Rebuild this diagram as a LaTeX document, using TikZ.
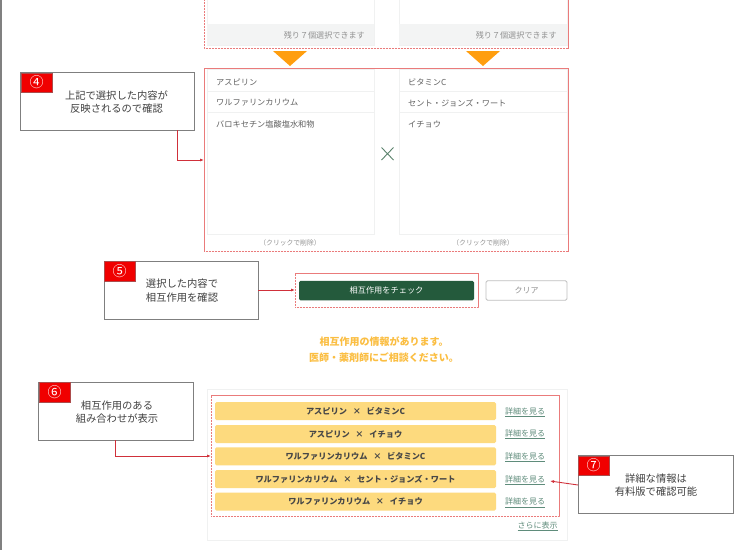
\documentclass[tikz,border=0pt]{standalone}
\usepackage{fontspec}
\usepackage{xcolor}
\setmainfont{Noto Sans CJK JP}
\usetikzlibrary{arrows.meta}
\definecolor{redline}{HTML}{EA7B7B}
\definecolor{connred}{HTML}{D0303A}
\definecolor{badgered}{HTML}{F00000}
\definecolor{boxgray}{HTML}{7F7F7F}
\definecolor{panelline}{HTML}{F0F1F1}
\definecolor{footgray}{HTML}{F3F4F4}
\definecolor{txtgray}{HTML}{606060}
\definecolor{footer}{HTML}{909090}
\definecolor{btngreen}{HTML}{245A3C}
\definecolor{barfill}{HTML}{FDDA7E}
\definecolor{linkgreen}{HTML}{5F8C7B}
\definecolor{amber}{HTML}{FBBE42}
\definecolor{triangle}{HTML}{FF9E0F}
\newcommand{\fsz}[1]{\fontsize{#1pt}{#1pt}\selectfont}
\newcommand{\linktxt}[1]{$\underline{\hbox{#1}}$}
\newcommand{\timesgap}{\hspace{0.7em}×\hspace{0.7em}}
\tikzset{
  callout/.style={draw=boxgray,line width=0.9pt,fill=white,inner sep=0pt,outer sep=0pt},
  badge/.style={fill=badgered,draw=boxgray!60!badgered,line width=0.3pt,text=white,inner sep=0pt,outer sep=0pt,minimum width=31pt,minimum height=19.5pt,font=\fsz{14}},
  calltext/.style={text=black!75,align=center,font=\fsz{10.3},inner sep=0pt},
  hilite/.style={draw=redline,dash pattern=on 1.2pt off 0.3pt,line width=1pt,inner sep=0pt,outer sep=0pt},
  panel/.style={draw=panelline,line width=0.7pt,fill=white,inner sep=0pt,outer sep=0pt},
  row/.style={anchor=west,text=txtgray,font=\fsz{8.2},inner sep=0pt},
  foot/.style={text=footer,font=\fsz{8.1},inner sep=0pt},
  delnote/.style={text=footer,font=\fsz{6.8},inner sep=0pt},
  bar/.style={fill=barfill,rounded corners=1.5pt,text=black!72,minimum width=281pt,minimum height=18pt,inner sep=0pt,outer sep=0pt,font=\fsz{8.2}\bfseries},
  linkt/.style={text=linkgreen,font=\fsz{8},inner sep=0pt},
  conn/.style={draw=connred,line width=0.9pt,-{Latex[length=4pt,width=3pt]}},
  tri/.style={fill=triangle,draw=none}
}
\begin{document}
\begin{tikzpicture}[x=1pt,y=-1pt]
\useasboundingbox (0,0) rectangle (750,550);
\clip (0,0) rectangle (750,550);
\fill[white] (0,0) rectangle (750,550);
\fill[black!50] (0,0) rectangle (1.6,550);

% top panels
\draw[panel] (207,-3) rectangle (374,45);
\draw[panel] (399,-3) rectangle (567,45);
\fill[footgray] (207,24) rectangle (374,45);
\fill[footgray] (399,24) rectangle (567,45);
\node[foot,anchor=east] (rem1) at (365,35.5) {残り７個選択できます};
\node[foot,anchor=east] (rem2) at (557,35.5) {残り７個選択できます};
\draw[hilite] (204,-3) rectangle (568,48);

% triangles
\fill[tri] (273,51) -- (307,51) -- (290,66) -- cycle;
\fill[tri] (466,51) -- (500,51) -- (483,66) -- cycle;

% selected lists
\draw[panel] (207,69) rectangle (374,234);
\draw[panel] (399,69) rectangle (567,234);
\draw[panelline,line width=0.7pt] (207,91) -- (374,91) (207,112) -- (374,112);
\draw[panelline,line width=0.7pt] (399,91) -- (567,91) (399,112) -- (567,112);
\node[row] (a1) at (216,82) {アスピリン};
\node[row] (a2) at (216,103) {ワルファリンカリウム};
\node[row] (a3) at (216,124) {バロキセチン塩酸塩水和物};
\node[row] (b1) at (408,82) {ビタミンC};
\node[row] (b2) at (408,103) {セント・ジョンズ・ワート};
\node[row] (b3) at (408,124) {イチョウ};
\node[delnote] (d1) at (290,242.5) {（クリックで削除）};
\node[delnote] (d2) at (483,242.5) {（クリックで削除）};
\draw[btngreen!75,line width=0.9pt] (381.5,147.5) -- (393.5,160) (393.5,147.5) -- (381.5,160);
\node[hilite,minimum width=364pt,minimum height=183pt] (list) at (386,159.5) {};

% callout 4
\node[callout,minimum width=174pt,minimum height=58pt] (c4) at (107,101) {};
\node[badge] (b4) at (36.5,82.5) {④};
\node[calltext] (t4) at (116.5,102) {上記で選択した内容が\\[3pt]反映されるので確認};
\coordinate (c4out) at ([xshift=70pt]c4.south);
\draw[conn] (c4out) |- (list.west |- 0,160);

% button row
\node[hilite,minimum width=183pt,minimum height=34pt] (btnbox) at (386.5,290) {};
\node[fill=btngreen,rounded corners=1.5pt,text=white,minimum width=175pt,minimum height=19.5pt,inner sep=0pt,font=\fsz{8.2}] (btn) at (386.5,290.5) {相互作用をチェック};
\node[draw=black!25,line width=0.8pt,rounded corners=1.5pt,fill=white,text=footer,minimum width=81pt,minimum height=19.5pt,inner sep=0pt,font=\fsz{8}] (clr) at (526.5,290.5) {クリア};

% callout 5
\node[callout,minimum width=154pt,minimum height=58pt] (c5) at (181,290) {};
\node[badge] (b5) at (119.5,271) {⑤};
\node[calltext] (t5) at (182,290.5) {選択した内容で\\[3pt]相互作用を確認};
\draw[conn] (c5.east) -- (btnbox.west);

% message
\node[text=amber,font=\fsz{10}\bfseries,inner sep=0pt] (m1) at (384,341.5) {相互作用の情報があります。};
\node[text=amber,font=\fsz{10}\bfseries,inner sep=0pt] (m2) at (384,357.5) {医師・薬剤師にご相談ください。};

% result panel
\draw[draw=panelline,line width=0.8pt,fill=white] (207,389) rectangle (567,540);
\node[hilite,minimum width=348pt,minimum height=121pt] (res) at (385,455.5) {};
\node[bar] (r1) at (355.5,411) {アスピリン\timesgap ビタミンC};
\node[bar] (r2) at (355.5,434) {アスピリン\timesgap イチョウ};
\node[bar] (r3) at (355.5,456.3) {ワルファリンカリウム\timesgap ビタミンC};
\node[bar] (r4) at (355.5,479) {ワルファリンカリウム\timesgap セント・ジョンズ・ワート};
\node[bar] (r5) at (355.5,501.7) {ワルファリンカリウム\timesgap イチョウ};
\node[linkt] (l1) at (525,412) {\linktxt{詳細を見る}};
\node[linkt] (l2) at (525,434.5) {\linktxt{詳細を見る}};
\node[linkt] (l3) at (525,457.3) {\linktxt{詳細を見る}};
\node[linkt] (l4) at (525,480) {\linktxt{詳細を見る}};
\node[linkt] (l5) at (525,502.7) {\linktxt{詳細を見る}};
\node[linkt] (more) at (537.5,526.5) {\linktxt{さらに表示}};

% callout 6
\node[callout,minimum width=155pt,minimum height=58pt] (c6) at (115.5,411) {};
\node[badge] (b6) at (54.5,392) {⑥};
\node[calltext] (t6) at (117,412) {相互作用のある\\[3pt]組み合わせが表示};
\coordinate (c6out) at (c6.south);
\draw[conn] (c6out) |- (res.west |- 0,456);

% callout 7
\node[callout,minimum width=155pt,minimum height=58pt] (c7) at (655.5,484) {};
\node[badge] (b7) at (593.5,465.5) {⑦};
\node[calltext] (t7) at (656,485) {詳細な情報は\\[3pt]有料版で確認可能};
\coordinate (c7out) at (c7.west |- 0,485);
\coordinate (c7in) at (550,481);
\draw[conn] (c7out) -- (c7in);
\end{tikzpicture}
\end{document}
